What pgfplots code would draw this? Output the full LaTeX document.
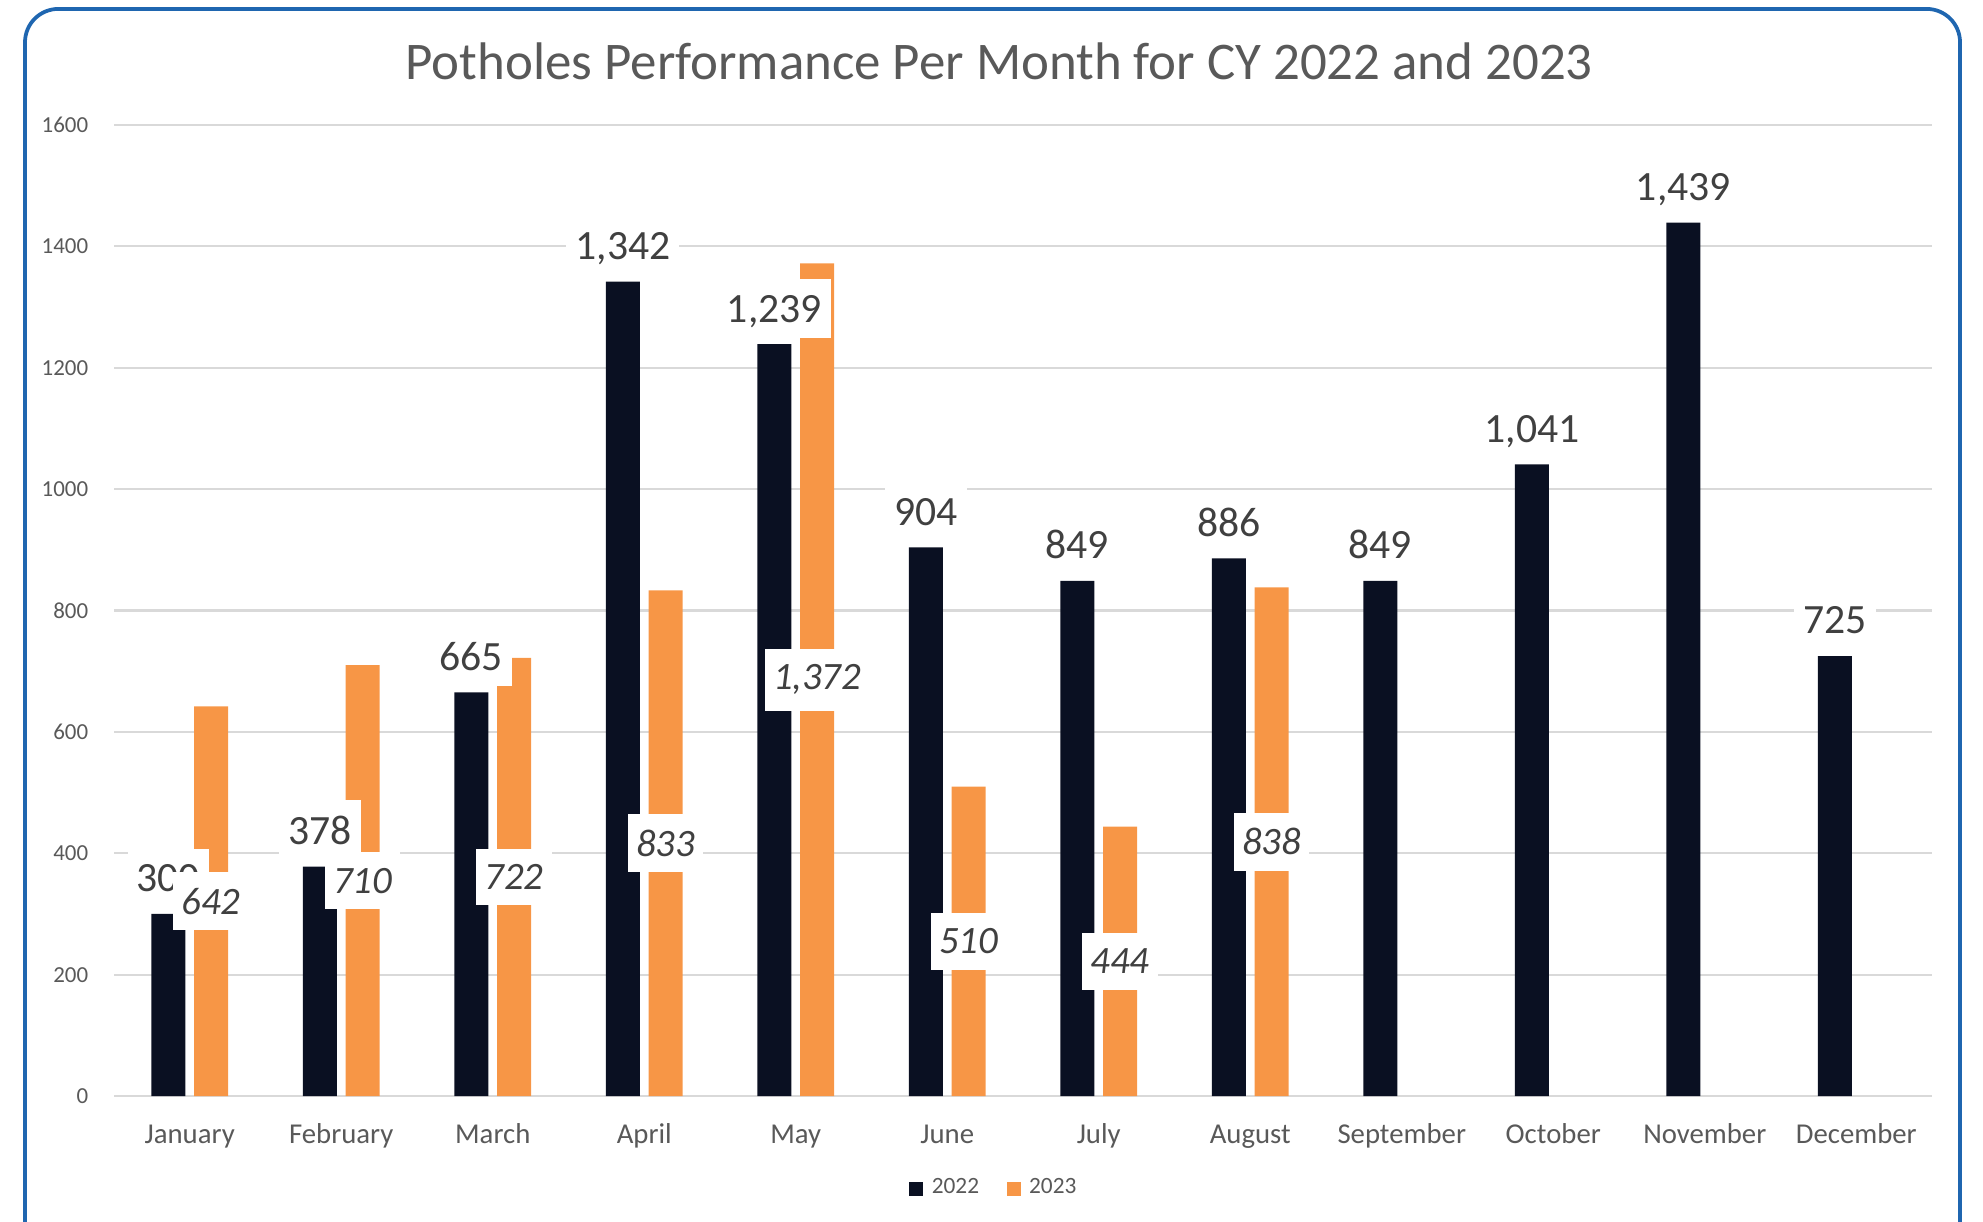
\documentclass[border=0pt]{standalone}
\usepackage{fontspec}
\setmainfont{Carlito}
\usepackage{pgfplots}
\usepackage{pgfplotstable}
\pgfplotsset{compat=1.18}

\definecolor{navy}{HTML}{0A1022}
\definecolor{orng}{HTML}{F79646}
\definecolor{framebl}{HTML}{1F66B0}
\definecolor{txtgray}{HTML}{595959}
\definecolor{lblgray}{HTML}{404040}
\definecolor{gridgray}{HTML}{D9D9D9}

% 2022 values
\pgfplotstableread{
x v
0 300
1 378
2 665
3 1342
4 1239
5 904
6 849
7 886
8 849
9 1041
10 1439
11 725
}\dataA

% 2023 values
\pgfplotstableread{
x v
0 642
1 710
2 722
3 833
4 1372
5 510
6 444
7 838
}\dataB

\begin{document}
\begin{tikzpicture}
\path[use as bounding box] (0,0) rectangle (475.92pt,293.04pt);
\draw[framebl, line width=0.9pt, rounded corners=8pt] (6pt,-12pt) rectangle (470.4pt,290.9pt);

\begin{axis}[
  at={(27.36pt,30pt)}, anchor=south west,
  scale only axis,
  width=436.32pt, height=233.04pt,
  xmin=-0.5, xmax=11.5, ymin=0, ymax=1600,
  clip=false,
  axis line style={draw=none},
  tick style={draw=none},
  ymajorgrids,
  major grid style={gridgray, line width=0.5pt},
  ytick={0,200,...,1600},
  xtick={0,...,11},
  xticklabels={January,February,March,April,May,June,July,August,September,October,November,December},
  /pgf/number format/.cd, 1000 sep={}, assume math mode=true, /pgfplots/.cd,
  yticklabel style={anchor=east, inner sep=0pt, xshift=-6pt, font=\fontsize{5.5}{6}\selectfont, text=txtgray},
  xticklabel style={anchor=base, inner sep=0pt, yshift=-11.3pt, font=\fontsize{6.9}{8}\selectfont, text=txtgray},
  legend style={draw=none, fill=none, at={(0.4857,-0.0958)}, anchor=center,
    font=\fontsize{5.6}{6.5}\selectfont, text=txtgray, inner sep=0pt,
    /tikz/every even column/.append style={column sep=4.6pt}},
  legend columns=2,
]
\addplot[ybar, bar width=0.224, bar shift=-0.141, fill=navy, draw=none,
  legend image code/.code={\fill[navy] (0pt,-1.7pt) rectangle (3.4pt,1.7pt);}]
  table[x=x, y=v] {\dataA};
\addplot[ybar, bar width=0.224, bar shift=0.141, fill=orng, draw=none,
  legend image code/.code={\fill[orng] (0pt,-1.7pt) rectangle (3.4pt,1.7pt);}]
  table[x=x, y=v] {\dataB};

% 2022 labels above the bars
\addplot[draw=none, mark=none, forget plot, point meta=explicit,
  nodes near coords={\pgfmathprintnumber[1000 sep={,}]{\pgfplotspointmeta}},
  every node near coord/.style={anchor=base, yshift=5.3pt, fill=white, text=lblgray,
    inner xsep=2.2pt, inner ysep=3.8pt, text depth=0pt, font=\fontsize{10}{12}\selectfont}]
  table[x expr=\thisrow{x}-0.141, y=v, meta=v] {\dataA};

% 2023 labels in the middle of the bars
\addplot[draw=none, mark=none, forget plot, point meta=explicit,
  nodes near coords={\pgfmathprintnumber[1000 sep={,}]{\pgfplotspointmeta}},
  every node near coord/.style={anchor=center, fill=white, text=lblgray,
    inner xsep=2pt, inner ysep=3.8pt, font=\fontsize{9.3}{11}\selectfont\itshape}]
  table[x expr=\thisrow{x}+0.141, y expr=\thisrow{v}/2, meta=v] {\dataB};

\legend{2022,2023}
\end{axis}

\node[text=txtgray, font=\fontsize{12.7}{15}\selectfont] at (239.8pt,278.4pt) {Potholes Performance Per Month for CY 2022 and 2023};
\end{tikzpicture}
\end{document}
